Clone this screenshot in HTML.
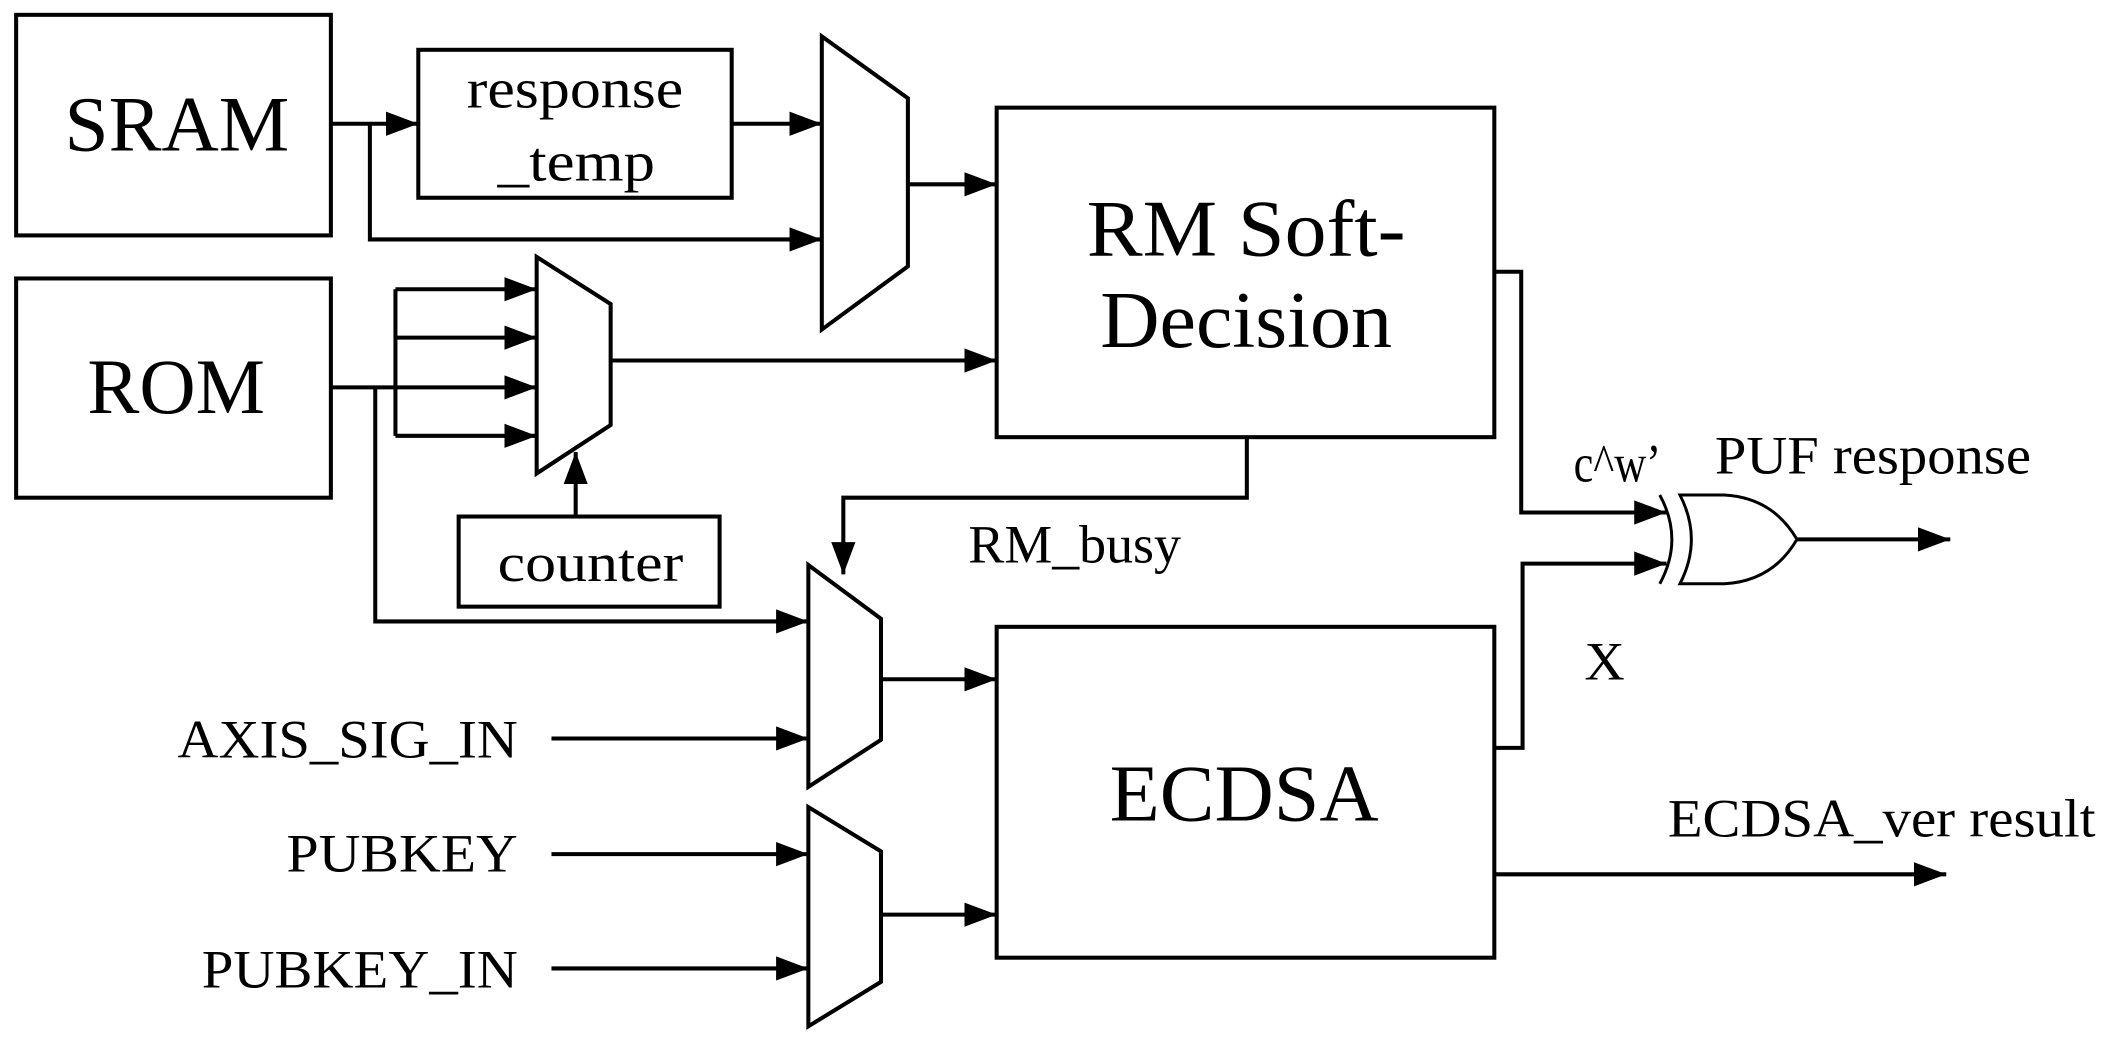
<!DOCTYPE html>
<html><head><meta charset="utf-8"><style>
html,body{margin:0;padding:0;background:#fff;}
svg{display:block;}
text{font-family:"Liberation Serif",serif;fill:#000;}
</style></head><body>
<svg width="2109" height="1050" viewBox="0 0 1568 780.6" xmlns="http://www.w3.org/2000/svg">
<defs>
<marker id="a" markerWidth="26" markerHeight="20" refX="24" refY="9" orient="auto" markerUnits="userSpaceOnUse">
<path d="M0,0 L24,9 L0,18 Z" fill="#000"/>
</marker>
</defs>
<g fill="none" stroke="#000" stroke-width="3">
<rect x="12" y="11" width="234" height="164"/>
<rect x="311" y="37" width="233" height="110"/>
<rect x="741" y="80" width="370" height="245"/>
<rect x="12" y="207" width="234" height="163"/>
<rect x="341" y="384" width="194" height="67"/>
<rect x="741" y="466" width="370" height="246"/>
<path d="M611,27 L675,73 L675,198 L611,245 Z"/>
<path d="M399,191 L454,226 L454,316 L399,352 Z"/>
<path d="M601,420 L655,460 L655,550 L601,585 Z"/>
<path d="M601,600 L655,633 L655,730 L601,763 Z"/>
<path d="M246,92 L311,92" marker-end="url(#a)"/>
<path d="M275,92 L275,178 L611,178" marker-end="url(#a)"/>
<path d="M544,92 L611,92" marker-end="url(#a)"/>
<path d="M675,137 L741,137" marker-end="url(#a)"/>
<path d="M246,288 L399,288" marker-end="url(#a)"/>
<path d="M294,215 L294,324"/>
<path d="M294,215 L399,215" marker-end="url(#a)"/>
<path d="M294,251 L399,251" marker-end="url(#a)"/>
<path d="M294,324 L399,324" marker-end="url(#a)"/>
<path d="M279,288 L279,462 L601,462" marker-end="url(#a)"/>
<path d="M454,268 L741,268" marker-end="url(#a)"/>
<path d="M428,384 L428,336" marker-end="url(#a)"/>
<path d="M927,325 L927,370 L627,370 L627,427" marker-end="url(#a)"/>
<path d="M410,549 L601,549" marker-end="url(#a)"/>
<path d="M655,505 L741,505" marker-end="url(#a)"/>
<path d="M410,635 L601,635" marker-end="url(#a)"/>
<path d="M410,720 L601,720" marker-end="url(#a)"/>
<path d="M655,680 L741,680" marker-end="url(#a)"/>
<path d="M1111,202 L1131,202 L1131,381 L1239,381" marker-end="url(#a)"/>
<path d="M1111,556 L1132,556 L1132,419 L1239,419" marker-end="url(#a)"/>
<path d="M1111,650 L1447,650" marker-end="url(#a)"/>
<path d="M1336,401 L1450,401" marker-end="url(#a)"/>
</g>
<g fill="none" stroke="#000" stroke-width="2.2">
<path d="M1234,368 Q1252,401 1234,434"/>
<path d="M1249,368 L1282,368 Q1318,370 1336,401 Q1318,432 1282,434 L1249,434 Q1266,401 1249,368 Z"/>
</g>
<g lengthAdjust="spacingAndGlyphs">
<text x="48" y="112" font-size="58" textLength="167" lengthAdjust="spacingAndGlyphs">SRAM</text>
<text x="347" y="80" font-size="42" textLength="161" lengthAdjust="spacingAndGlyphs">response</text>
<text x="370" y="134" font-size="42" textLength="117" lengthAdjust="spacingAndGlyphs">_temp</text>
<text x="808" y="190" font-size="60" textLength="237" lengthAdjust="spacingAndGlyphs">RM Soft-</text>
<text x="818" y="258" font-size="60" textLength="217" lengthAdjust="spacingAndGlyphs">Decision</text>
<text x="65" y="307" font-size="58" textLength="132" lengthAdjust="spacingAndGlyphs">ROM</text>
<text x="370" y="432" font-size="40" textLength="138" lengthAdjust="spacingAndGlyphs">counter</text>
<text x="825" y="610" font-size="60" textLength="200" lengthAdjust="spacingAndGlyphs">ECDSA</text>
<text x="1170" y="358" font-size="40" textLength="65" lengthAdjust="spacingAndGlyphs">c^w’</text>
<text x="1275" y="352" font-size="40" textLength="235" lengthAdjust="spacingAndGlyphs">PUF response</text>
<text x="720" y="418" font-size="40" textLength="158" lengthAdjust="spacingAndGlyphs">RM_busy</text>
<text x="1178" y="505" font-size="40" textLength="30" lengthAdjust="spacingAndGlyphs">X</text>
<text x="1240" y="622" font-size="40" textLength="318" lengthAdjust="spacingAndGlyphs">ECDSA_ver result</text>
<text x="132" y="563" font-size="40" textLength="253" lengthAdjust="spacingAndGlyphs">AXIS_SIG_IN</text>
<text x="213" y="648" font-size="40" textLength="172" lengthAdjust="spacingAndGlyphs">PUBKEY</text>
<text x="150" y="734" font-size="40" textLength="235" lengthAdjust="spacingAndGlyphs">PUBKEY_IN</text>
</g>
</svg>
</body></html>
